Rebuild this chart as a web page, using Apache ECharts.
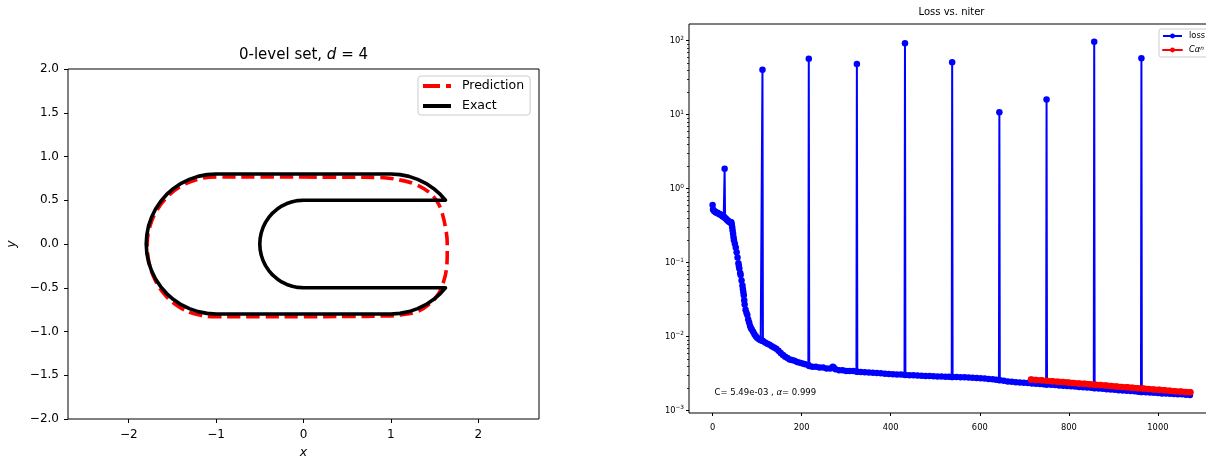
<!DOCTYPE html>
<html><head><meta charset="utf-8">
<script src="https://cdn.jsdelivr.net/npm/echarts@6/dist/echarts.min.js"></script>
<style>html,body{margin:0;padding:0;background:#fff}#c{width:1206px;height:457px}</style>
</head><body><div id="c"></div>
<script>
// ---------- Left panel: 0-level set ----------
const exactX = [0.5,1,1.104,1.207,1.306,1.4,1.487,1.566,1.625,1.2,0.6,0,-0.065,-0.129,-0.191,-0.25,-0.304,-0.354,-0.397,-0.433,-0.462,-0.483,-0.496,-0.5,-0.496,-0.483,-0.462,-0.433,-0.397,-0.354,-0.304,-0.25,-0.191,-0.129,-0.065,0,0.6,1.2,1.625,1.566,1.487,1.4,1.306,1.207,1.104,1,0,-1,-1.104,-1.207,-1.306,-1.4,-1.487,-1.566,-1.635,-1.693,-1.739,-1.773,-1.793,-1.8,-1.793,-1.773,-1.739,-1.693,-1.635,-1.566,-1.487,-1.4,-1.306,-1.207,-1.104,-1,0,0.5];
const exactY = [0.8,0.8,0.793,0.773,0.739,0.693,0.635,0.566,0.5,0.5,0.5,0.5,0.496,0.483,0.462,0.433,0.397,0.354,0.304,0.25,0.191,0.129,0.065,0,-0.065,-0.129,-0.191,-0.25,-0.304,-0.354,-0.397,-0.433,-0.462,-0.483,-0.496,-0.5,-0.5,-0.5,-0.5,-0.566,-0.635,-0.693,-0.739,-0.773,-0.793,-0.8,-0.8,-0.8,-0.793,-0.773,-0.739,-0.693,-0.635,-0.566,-0.487,-0.4,-0.306,-0.207,-0.104,0,0.104,0.207,0.306,0.4,0.487,0.566,0.635,0.693,0.739,0.773,0.793,0.8,0.8,0.8];
const predX = [0,0.5,0.88,1.11,1.3,1.45,1.53,1.575,1.623,1.645,1.645,1.634,1.597,1.547,1.451,1.3,1.11,0.9,0.5,0,-0.5,-1,-1.216,-1.418,-1.583,-1.701,-1.768,-1.788,-1.757,-1.675,-1.549,-1.386,-1.199,-1,-0.5,0];
const predY = [0.765,0.763,0.76,0.73,0.674,0.58,0.483,0.39,0.2,0.0,-0.07,-0.3,-0.45,-0.565,-0.678,-0.773,-0.811,-0.823,-0.828,-0.83,-0.83,-0.83,-0.807,-0.723,-0.583,-0.405,-0.206,0,0.203,0.39,0.549,0.669,0.742,0.765,0.765,0.765];
const xTicksLeft = [-2,-1,0,1,2];
const yTicksLeft = [-2,-1.5,-1,-0.5,0,0.5,1,1.5,2];

// ---------- Right panel: Loss vs. niter ----------
const lossIter = [0,1,3,5,7,9,11,13,15,17,19,21,23,25,26,27,28,30,32,34,36,38,40,42,43,44,45,46,47,48,50,52,54,56,58,59,60,62,63,65,67,68,69,70,71,72,74,76,78,80,82,84,86,88,91,94,97,100,104,108,111,112,113,118,123,128,133,138,143,148,153,158,163,168,173,178,184,190,196,202,208,215,216,217,224,232,240,248,256,264,270,272,276,284,292,300,308,316,323,324,325,333,342,351,360,369,378,387,396,405,414,423,431,432,433,442,451,460,469,478,487,496,505,514,523,531,537,538,539,548,557,566,575,584,593,602,611,620,629,637,643,644,645,654,663,672,681,690,699,708,717,726,735,743,749,750,751,760,769,778,787,796,805,814,823,832,841,850,856,857,858,867,876,885,894,903,912,921,930,939,948,956,962,963,964,973,982,991,1000,1009,1018,1027,1036,1045,1054,1063,1072];
const lossVal = [0.60,0.52,0.50,0.49,0.48,0.47,0.47,0.46,0.45,0.45,0.44,0.43,0.42,0.42,0.41,1.85,0.40,0.39,0.38,0.37,0.36,0.355,0.345,0.35,0.33,0.30,0.27,0.245,0.22,0.20,0.18,0.16,0.138,0.117,0.098,0.09,0.083,0.072,0.068,0.057,0.049,0.044,0.040,0.036,0.031,0.027,0.023,0.021,0.0195,0.017,0.0155,0.014,0.013,0.0124,0.0116,0.0107,0.0101,0.0096,0.0092,0.0089,0.0088,40.5,0.0087,0.0083,0.0080,0.0077,0.0074,0.0071,0.0068,0.0064,0.0060,0.0056,0.0053,0.0051,0.0049,0.0048,0.0047,0.0045,0.0044,0.0043,0.0042,0.0041,57,0.0040,0.0039,0.0039,0.0038,0.0038,0.0037,0.0037,0.0039,0.0038,0.0036,0.0035,0.0035,0.0034,0.0034,0.0034,0.00335,48.5,0.00333,0.0033,0.00327,0.00325,0.00322,0.0032,0.00317,0.00314,0.00311,0.00309,0.00307,0.00305,0.00303,92,0.00302,0.0030,0.00298,0.00296,0.00294,0.00292,0.00291,0.00289,0.00288,0.00287,0.00286,0.00285,0.00284,51,0.00284,0.00283,0.00282,0.0028,0.00279,0.00277,0.00275,0.00272,0.0027,0.00267,0.00264,0.0026,0.00257,10.8,0.00256,0.00251,0.00247,0.00244,0.00241,0.00238,0.00236,0.00234,0.00232,0.0023,0.00228,0.00226,0.00225,16,0.00224,0.00222,0.0022,0.00218,0.00216,0.00214,0.00212,0.0021,0.00208,0.00206,0.00204,0.00202,0.00201,97,0.0020,0.00198,0.00196,0.00194,0.00192,0.0019,0.00188,0.00186,0.00184,0.00183,0.00181,0.00179,0.00178,58,0.00178,0.00176,0.00175,0.00173,0.00172,0.0017,0.00169,0.00168,0.00167,0.00166,0.00165,0.00163,0.00162];
const fitIter = [715,727,739,751,763,775,787,799,811,823,835,847,859,871,883,895,907,919,931,943,955,967,979,991,1003,1015,1027,1039,1051,1063,1073];
const fitVal = [0.00262,0.00258,0.00255,0.00251,0.00248,0.00245,0.00242,0.00238,0.00235,0.00232,0.00229,0.00226,0.00223,0.0022,0.00217,0.00214,0.00211,0.00208,0.00206,0.00203,0.002,0.00198,0.00195,0.00192,0.0019,0.00187,0.00185,0.00182,0.0018,0.00178,0.00176];
const xTicksRight = [0,200,400,600,800,1000];
const yTicksRight = [0.001,0.01,0.1,1,10,100];
const yMinorRight = [0.002,0.003,0.004,0.005,0.006,0.007,0.008,0.009,0.02,0.03,0.04,0.05,0.06,0.07,0.08,0.09,0.2,0.3,0.4,0.5,0.6,0.7,0.8,0.9,2,3,4,5,6,7,8,9,20,30,40,50,60,70,80,90];

const FONT = 'DejaVu Sans';
const zip = (a, b) => a.map((v, i) => [v, b[i]]);
const minus = s => String(s).replace('-', '\u2212');
const xMinR = -53, xMaxR = 1126;

const chart = echarts.init(document.getElementById('c'), null, {renderer: 'canvas'});
chart.setOption({
  animation: false,
  grid: [
    {left: 68, top: 69, width: 471, height: 350, show: true, borderColor: '#000', borderWidth: 1, outerBoundsMode: 'none', containLabel: false},
    {left: 689, top: 24, width: 525, height: 389, show: true, borderColor: '#000', borderWidth: 1, outerBoundsMode: 'none', containLabel: false}
  ],
  xAxis: [
    {gridIndex: 0, type: 'value', min: -2.695, max: 2.695,
     axisLine: {show: false, onZero: false}, splitLine: {show: false},
     axisTick: {show: true, length: 4, customValues: xTicksLeft, lineStyle: {color: '#000'}},
     axisLabel: {customValues: xTicksLeft, formatter: v => minus(v), fontFamily: FONT, fontSize: 12, color: '#000', margin: 10},
     name: 'x', nameLocation: 'middle', nameGap: 27,
     nameTextStyle: {fontFamily: FONT, fontStyle: 'italic', fontSize: 12.5, color: '#000'}},
    {gridIndex: 1, type: 'value', min: xMinR, max: xMaxR,
     axisLine: {show: false, onZero: false}, splitLine: {show: false},
     axisTick: {show: true, length: 3, customValues: xTicksRight, lineStyle: {color: '#000'}},
     axisLabel: {customValues: xTicksRight, formatter: v => String(v), fontFamily: FONT, fontSize: 8.3, color: '#000', margin: 11}}
  ],
  yAxis: [
    {gridIndex: 0, type: 'value', min: -2, max: 2,
     axisLine: {show: false, onZero: false}, splitLine: {show: false},
     axisTick: {show: true, length: 4, customValues: yTicksLeft, lineStyle: {color: '#000'}},
     axisLabel: {customValues: yTicksLeft, formatter: v => minus(v.toFixed(1)), fontFamily: FONT, fontSize: 12, color: '#000', margin: 9},
     name: 'y', nameLocation: 'middle', nameGap: 50,
     nameTextStyle: {fontFamily: FONT, fontStyle: 'italic', fontSize: 12.5, color: '#000'}},
    {gridIndex: 1, type: 'log', logBase: 10, min: 0.000923, max: 168,
     axisLine: {show: false, onZero: false}, splitLine: {show: false}, minorTick: {show: false},
     axisTick: {show: true, length: 3, customValues: yTicksRight, lineStyle: {color: '#000'}},
     axisLabel: {customValues: yTicksRight,
       formatter: v => '{b|10}{s|' + minus(Math.round(Math.log10(v))) + '}',
       margin: 5,
       rich: {b: {fontFamily: FONT, fontSize: 8.3, color: '#000'},
              s: {fontFamily: FONT, fontSize: 5.8, color: '#000', verticalAlign: 'top', padding: [0,0,5,0]}}}}
  ],
  legend: [
    {orient: 'vertical', left: 418, top: 76, itemWidth: 28, itemHeight: 4, itemGap: 6,
     padding: [3, 6, 2, 5], borderColor: '#cccccc', borderWidth: 1, borderRadius: 3,
     backgroundColor: 'rgba(255,255,255,0.8)', selectedMode: false,
     textStyle: {fontFamily: FONT, fontSize: 12.5, color: '#000', lineHeight: 14, padding: [0, 0, 0, 6]},
     data: [
       {name: 'Prediction', icon: 'path://M0,0H17V4H0Z M23,0H28V4H23Z', itemStyle: {color: 'red', borderWidth: 0}},
       {name: 'Exact', icon: 'path://M0,0H28V4H0Z', itemStyle: {color: '#000', borderWidth: 0}}
     ]},
    {orient: 'vertical', left: 1159, top: 29, itemWidth: 19, itemHeight: 6, itemGap: 4,
     padding: [2, 12, 2, 3], borderColor: '#cccccc', borderWidth: 1, borderRadius: 2,
     backgroundColor: 'rgba(255,255,255,0.8)', selectedMode: false,
     lineStyle: {width: 2},
     formatter: n => n === 'loss' ? 'loss' : '{i|C\u03b1}{s|n}',
     textStyle: {fontFamily: FONT, fontSize: 8.3, color: '#000', lineHeight: 10, padding: [0, 0, 0, 2],
       rich: {i: {fontFamily: FONT, fontSize: 8.3, fontStyle: 'italic', color: '#000'},
              s: {fontFamily: FONT, fontSize: 5.8, fontStyle: 'italic', color: '#000', verticalAlign: 'top', padding: [0,0,4,0]}}},
     data: [{name: 'loss', lineStyle: {width: 2}}, {name: 'Cfit', lineStyle: {width: 2}}]}
  ],
  graphic: [
    {type: 'text', x: 303.5, y: 55, style: {text: '0-level set, {i|d} = 4', fontFamily: FONT, fontSize: 15, fill: '#000',
      align: 'center', verticalAlign: 'middle', rich: {i: {fontFamily: FONT, fontSize: 15, fontStyle: 'italic', fill: '#000'}}}},
    {type: 'text', x: 951.5, y: 12.5, style: {text: 'Loss vs. niter', fontFamily: FONT, fontSize: 10, fill: '#000', align: 'center', verticalAlign: 'middle'}},
    {type: 'text', x: 714.5, y: 393, style: {text: 'C= 5.49e-03 , {i|\u03b1}= 0.999', fontFamily: FONT, fontSize: 8.5, fill: '#000',
      align: 'left', verticalAlign: 'middle', rich: {i: {fontFamily: FONT, fontSize: 8.5, fontStyle: 'italic', fill: '#000'}}}}
  ],
  series: [
    {name: 'Prediction', type: 'line', xAxisIndex: 0, yAxisIndex: 0, data: zip(predX, predY),
     symbol: 'none', smooth: 0.4, color: 'red', itemStyle: {color: 'red'},
     lineStyle: {color: 'red', width: 3.6, type: [13.4, 5.8], cap: 'butt', join: 'round'}, z: 3},
    {name: 'Exact', type: 'line', xAxisIndex: 0, yAxisIndex: 0, data: zip(exactX, exactY),
     symbol: 'none', color: '#000', itemStyle: {color: '#000'},
     lineStyle: {color: '#000', width: 3.6, join: 'round', cap: 'round'}, z: 4},
    {name: 'loss', type: 'line', xAxisIndex: 1, yAxisIndex: 1, data: zip(lossIter, lossVal),
     symbol: 'circle', symbolSize: 6.5, showAllSymbol: true, color: 'blue', itemStyle: {color: 'blue'},
     lineStyle: {color: 'blue', width: 2}, z: 3},
    {name: 'Cfit', type: 'line', xAxisIndex: 1, yAxisIndex: 1, data: zip(fitIter, fitVal),
     symbol: 'circle', symbolSize: 6.5, showAllSymbol: true, color: 'red', itemStyle: {color: 'red'},
     lineStyle: {color: 'red', width: 6, cap: 'round'}, z: 4},
    {type: 'custom', xAxisIndex: 1, yAxisIndex: 1, clip: false, silent: true, z: 6,
     data: yMinorRight.map(v => [xMinR, v]),
     renderItem: (params, api) => {
       const p = api.coord([api.value(0), api.value(1)]);
       return {type: 'line', shape: {x1: p[0] - 2, y1: Math.round(p[1]) + 0.5, x2: p[0], y2: Math.round(p[1]) + 0.5},
               style: {stroke: '#000', lineWidth: 0.8}};
     }}
  ]
});
</script></body></html>
